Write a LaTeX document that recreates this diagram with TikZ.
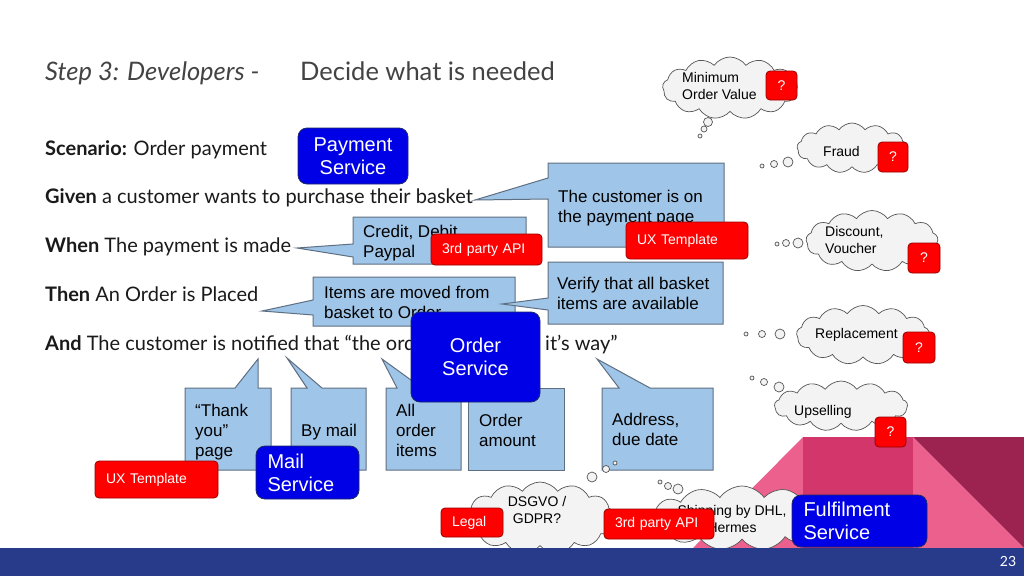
\documentclass[tikz,border=0pt]{standalone}
\usepackage{fontspec}
\setmainfont{Liberation Sans}
\newfontfamily\bodyfont{Lato}
\usetikzlibrary{shapes.symbols}
\definecolor{calfill}{HTML}{9FC5E8}
\definecolor{caldraw}{HTML}{5F6F82}
\definecolor{redfill}{HTML}{FF0000}
\definecolor{reddraw}{HTML}{990000}
\definecolor{bluefill}{HTML}{0000E6}
\definecolor{bluedraw}{HTML}{1F2A66}
\definecolor{cloudfill}{HTML}{F3F3F3}
\definecolor{clouddraw}{HTML}{555555}
\definecolor{pinklight}{HTML}{EC608E}
\definecolor{pinkmid}{HTML}{D2366B}
\definecolor{maroonbg}{HTML}{9C2350}
\definecolor{footerbg}{HTML}{283B8B}
\definecolor{titlegray}{HTML}{434343}
\definecolor{bodyblack}{HTML}{1A1A1A}
\tikzset{
  titletext/.style={font=\bodyfont\fontsize{25.5}{28}\selectfont, text=titlegray, anchor=base west, inner sep=0},
  bodytext/.style={font=\bodyfont\fontsize{20}{23}\selectfont, text=bodyblack, anchor=base west, inner sep=0},
  callout/.style={fill=calfill, draw=caldraw, line width=1pt, line join=miter},
  ctext/.style={font=\fontsize{17}{20}\selectfont, align=left, anchor=base west, inner sep=0},
  redbox/.style={fill=redfill, draw=reddraw, rounded corners=4pt, text=white, font=\fontsize{14}{16}\selectfont, line width=0.8pt, inner ysep=0, inner xsep=11pt, align=left},
  qbox/.style={fill=redfill, draw=reddraw, rounded corners=4pt, text=white, font=\fontsize{14}{16}\selectfont, line width=0.8pt, inner sep=0},
  bluebox/.style={fill=bluefill, draw=bluedraw, rounded corners=9pt, text=white, font=\fontsize{20}{23}\selectfont, line width=0.8pt, inner sep=0},
  thought/.style={cloud, cloud puffs=13, cloud puff arc=110, cloud ignores aspect, draw=clouddraw, fill=cloudfill, line width=0.7pt, inner sep=0},
  bubble/.style={circle, draw=clouddraw, fill=cloudfill, inner sep=0, line width=0.7pt},
  cloudtext/.style={font=\fontsize{14}{17}\selectfont, align=left, anchor=base west, inner sep=0}
}
\begin{document}
\begin{tikzpicture}[x=1pt,y=-1pt]
\useasboundingbox (0,0) rectangle (1024,576);
\fill[white] (0,0) rectangle (1024,576);
% background decoration
\fill[pinklight] (693,548) -- (803,437) -- (913,437) -- (1024,548) -- cycle;
\fill[pinkmid] (803,437) rectangle (913,548);
\fill[maroonbg] (913,437) -- (1024,437) -- (1024,548) -- cycle;
% title
\node[titletext] (title1) at (45,80) {\itshape Step 3: Developers -};
\node[titletext] (title2) at (300,80) {Decide what is needed};
% scenario text
\node[bodytext] (scen) at (45,155) {\textbf{Scenario:} Order payment};
\node[bodytext] (given) at (45,203) {\textbf{Given} a customer wants to purchase their basket};
\node[bodytext] (when) at (45,252) {\textbf{When} The payment is made};
\node[bodytext] (then) at (45,301) {\textbf{Then} An Order is Placed};
\node[bodytext] (and) at (45,350) {\textbf{And} The customer is notified that “the order};
\node[bodytext] (and2) at (545,350) {it’s way”};
% callouts
\draw[callout] (548,163) -- (724,163) -- (724,247) -- (548,247) -- (548,199) -- (475,200) -- (548,178) -- cycle;
\node[ctext] (cust) at (558,222) {The customer is on\\the payment page};
\draw[callout] (353,217) -- (526,217) -- (526,264) -- (353,264) -- (353,257) -- (297,248) -- (353,244) -- cycle;
\node[ctext] (credit) at (363,257) {Credit, Debit\\Paypal};
\draw[callout] (313,277) -- (515,277) -- (515,326) -- (313,326) -- (313,315) -- (262,311) -- (313,300) -- cycle;
\node[ctext] (items) at (324,318) {Items are moved from\\basket to Order};
\draw[callout] (548,262) -- (723,262) -- (723,324) -- (548,324) -- (548,310) -- (502,304) -- (548,298) -- cycle;
\node[ctext] (verify) at (557,309) {Verify that all basket\\items are available};
\draw[callout] (185,388) -- (235,388) -- (258,359) -- (258,388) -- (271,388) -- (271,470) -- (185,470) -- cycle;
\node[ctext] (thank) at (195,456) {“Thank\\you”\\page};
\draw[callout] (291,388) -- (307,388) -- (287,358) -- (322,388) -- (366,388) -- (366,470) -- (291,470) -- cycle;
\node[ctext] (bymail) at (301,436) {By mail};
\draw[callout] (386,388) -- (397,388) -- (382,359) -- (422,388) -- (461,388) -- (461,470) -- (386,470) -- cycle;
\node[ctext] (allitems) at (396,456) {All\\order\\items};
\draw[callout] (468,388) rectangle (564,470);
\node[ctext] (amount) at (479,446) {Order\\amount};
\draw[callout] (602,388) -- (619,388) -- (597,359) -- (650,388) -- (713,388) -- (713,470) -- (602,470) -- cycle;
\node[ctext] (address) at (612,445) {Address,\\due date};
% thought clouds
\node[thought, minimum width=135, minimum height=62] (cmin) at (730,88) {};
\node[cloudtext] (tmin) at (682,99) {Minimum\\Order Value};
\node[bubble, minimum size=9] (bm1) at (708,122) {};
\node[bubble, minimum size=6] (bm2) at (704,129) {};
\node[bubble, minimum size=4] (bm3) at (700,136) {};
\node[thought, minimum width=110, minimum height=50] (cfraud) at (852,148) {};
\node[cloudtext] (tfraud) at (823,156) {Fraud};
\node[bubble, minimum size=10] (bf1) at (788,162) {};
\node[bubble, minimum size=7] (bf2) at (774,164) {};
\node[bubble, minimum size=4] (bf3) at (762,166) {};
\node[thought, minimum width=132, minimum height=61] (cdisc) at (872,241) {};
\node[cloudtext] (tdisc) at (825,253) {Discount,\\Voucher};
\node[bubble, minimum size=10] (bd1) at (798,243) {};
\node[bubble, minimum size=7] (bd2) at (786,243) {};
\node[bubble, minimum size=4] (bd3) at (777,244) {};
\node[thought, minimum width=133, minimum height=59] (crepl) at (863,335) {};
\node[cloudtext] (trepl) at (815,338) {Replacement};
\node[bubble, minimum size=10] (br1) at (780,334) {};
\node[bubble, minimum size=7] (br2) at (762,334) {};
\node[bubble, minimum size=4] (br3) at (746,334) {};
\node[thought, minimum width=133, minimum height=50] (cups) at (841,406) {};
\node[cloudtext] (tups) at (794,415) {Upselling};
\node[bubble, minimum size=10] (bu1) at (779,387) {};
\node[bubble, minimum size=7] (bu2) at (764,382) {};
\node[bubble, minimum size=4] (bu3) at (752,378) {};
\node[thought, minimum width=150, minimum height=72] (cgdpr) at (540,518) {};
\node[cloudtext, align=center, anchor=base] (tgdpr) at (537,523) {DSGVO /\\GDPR?};
\node[bubble, minimum size=10] (bg1) at (592,477) {};
\node[bubble, minimum size=7] (bg2) at (606,469) {};
\node[bubble, minimum size=4] (bg3) at (615,463) {};
\node[thought, minimum width=185, minimum height=64] (cship) at (742,518) {};
\node[cloudtext, align=center, anchor=base] (tship) at (732,532) {Shipping by DHL,\\Hermes};
\node[bubble, minimum size=10] (bs1) at (678,489) {};
\node[bubble, minimum size=7] (bs2) at (668,486) {};
\node[bubble, minimum size=4] (bs3) at (660,482) {};
% red tags
\node[redbox, minimum width=111, minimum height=31, text width=89] (pay3rd) at (486.5,249.5) {3rd party API};
\node[redbox, minimum width=122, minimum height=37, text width=100] (uxtop) at (687,240.5) {UX Template};
\node[redbox, minimum width=123, minimum height=37, text width=101] (uxbot) at (156.5,479.5) {UX Template};
\node[redbox, minimum width=62, minimum height=29, text width=40] (legal) at (472,522.5) {Legal};
\node[redbox, minimum width=110, minimum height=30, text width=88] (ship3rd) at (659,524) {3rd party API};
\node[qbox, minimum width=31, minimum height=29] (q1) at (781.5,85.5) {?};
\node[qbox, minimum width=30, minimum height=30] (q2) at (893,157) {?};
\node[qbox, minimum width=32, minimum height=30] (q3) at (924,258) {?};
\node[qbox, minimum width=32, minimum height=31] (q4) at (919,347.5) {?};
\node[qbox, minimum width=31, minimum height=30] (q5) at (890.5,432) {?};
% services
\node[bluebox, minimum width=110, minimum height=56, align=center] (paysvc) at (353,156) {Payment\\Service};
\node[bluebox, minimum width=129, minimum height=90, align=center] (ordersvc) at (475.5,357) {Order\\Service};
\node[bluebox, minimum width=103, minimum height=53, text width=80, align=left] (mailsvc) at (307.5,472.5) {Mail\\Service};
\node[bluebox, minimum width=135, minimum height=52, text width=112, align=left] (fulsvc) at (859.5,521) {Fulfilment\\Service};
% footer
\fill[footerbg] (0,548) rectangle (1024,576);
\node[font=\bodyfont\fontsize{14}{16}\selectfont, text=white, inner sep=0] (pagenum) at (1008,561) {23};
\end{tikzpicture}
\end{document}
